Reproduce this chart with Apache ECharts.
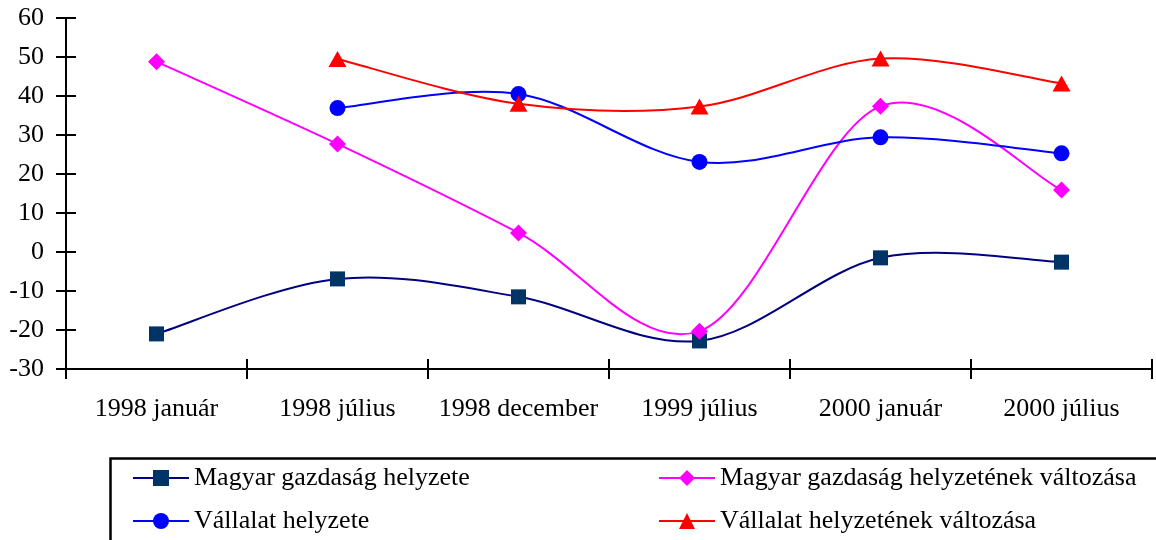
<!DOCTYPE html>
<html>
<head>
<meta charset="utf-8">
<script src="https://cdn.jsdelivr.net/npm/echarts@6/dist/echarts.min.js"></script>
<style>
html,body{margin:0;padding:0;background:#fff;}
#chart{width:1156px;height:540px;}
</style>
</head>
<body>
<div id="chart"></div>
<script>
var categories = ['1998 január', '1998 július', '1998 december', '1999 július', '2000 január', '2000 július'];
var seriesNames = ['Magyar gazdaság helyzete', 'Magyar gazdaság helyzetének változása', 'Vállalat helyzete', 'Vállalat helyzetének változása'];
var magyarHelyzet = [-21, -6.9, -11.5, -22.8, -1.5, -2.6];
var magyarValtozas = [48.8, 27.7, 4.9, -20.3, 37.4, 15.9];
var vallalatHelyzet = ['-', 36.9, 40.5, 23.1, 29.4, 25.3];
var vallalatValtozas = ['-', 49.5, 38, 37.3, 49.6, 43.2];
var yTicks = {min: -30, max: 60, interval: 10};

var FONT = '"Liberation Serif", "Times New Roman", serif';
var chart = echarts.init(document.getElementById('chart'), null, {renderer: 'canvas'});

function isValid(v) { return v !== '-' && v !== null && v !== undefined; }

function mkMarkers(name, data, lineColor, markColor, symbol, size) {
  return {
    name: name, type: 'line', data: data,
    symbol: symbol, symbolSize: size, showAllSymbol: true,
    lineStyle: {color: lineColor, width: 2, opacity: 0},
    itemStyle: {color: markColor, borderWidth: 0},
    emphasis: {disabled: true}, silent: true,
    animation: false, z: 4
  };
}

function mkCurve(data, color) {
  return {
    type: 'custom', silent: true, z: 3, animation: false,
    data: data.map(function (v, i) { return [i, isValid(v) ? v : 0]; }),
    renderItem: function (params, api) {
      var i = params.dataIndex, n = data.length;
      if (i >= n - 1 || !isValid(data[i]) || !isValid(data[i + 1])) return null;
      var p1 = api.coord([i, data[i]]);
      var p2 = api.coord([i + 1, data[i + 1]]);
      var p0 = (i - 1 >= 0 && isValid(data[i - 1])) ? api.coord([i - 1, data[i - 1]]) : p1;
      var p3 = (i + 2 < n && isValid(data[i + 2])) ? api.coord([i + 2, data[i + 2]]) : p2;
      return {
        type: 'bezierCurve',
        shape: {
          x1: p1[0], y1: p1[1], x2: p2[0], y2: p2[1],
          cpx1: p1[0] + (p2[0] - p0[0]) / 6, cpy1: p1[1] + (p2[1] - p0[1]) / 6,
          cpx2: p2[0] - (p3[0] - p1[0]) / 6, cpy2: p2[1] - (p3[1] - p1[1]) / 6
        },
        style: {stroke: color, lineWidth: 2, fill: null}
      };
    }
  };
}

var yTickValues = [];
for (var t = yTicks.min; t <= yTicks.max; t += yTicks.interval) yTickValues.push(t);

var yInnerTicks = {
  type: 'custom', z: 50, animation: false,
  data: yTickValues.map(function (v) { return [0, v]; }),
  renderItem: function (params, api) {
    var p = api.coord([0, api.value(1)]);
    var x0 = params.coordSys.x;
    return {type: 'line', shape: {x1: x0, y1: p[1], x2: x0 + 10, y2: p[1]},
            style: {stroke: '#000', lineWidth: 2}};
  }
};
var xInnerTicks = {
  type: 'custom', z: 50, animation: false,
  data: categories.map(function (c, i) { return [i, yTicks.min]; }).concat([[categories.length - 1, yTicks.min]]),
  renderItem: function (params, api) {
    var i = params.dataIndex;
    var last = i >= categories.length;
    var p = api.coord([api.value(0), yTicks.min]);
    var band = api.size([1, 0])[0];
    var x = last ? p[0] + band / 2 : p[0] - band / 2;
    var y0 = params.coordSys.y + params.coordSys.height;
    return {type: 'line', shape: {x1: x, y1: y0, x2: x, y2: y0 - 10},
            style: {stroke: '#000', lineWidth: 2}};
  }
};

var option = {
  animation: false,
  backgroundColor: '#fff',
  textStyle: {fontFamily: FONT},
  grid: {left: 66, right: 4, top: 18, bottom: 171, containLabel: false},
  xAxis: {
    type: 'category', data: categories, boundaryGap: true,
    axisLine: {onZero: false, lineStyle: {color: '#000', width: 2}},
    axisTick: {show: true, length: 10, lineStyle: {color: '#000', width: 2}},
    axisLabel: {color: '#000', fontSize: 26, fontFamily: FONT, margin: 27, interval: 0},
    splitLine: {show: false}
  },
  yAxis: {
    type: 'value', min: yTicks.min, max: yTicks.max, interval: yTicks.interval,
    axisLine: {show: true, onZero: false, lineStyle: {color: '#000', width: 2}},
    axisTick: {show: true, length: 10, lineStyle: {color: '#000', width: 2}},
    axisLabel: {color: '#000', fontSize: 26, fontFamily: FONT, margin: 22},
    splitLine: {show: false}
  },
  legend: [{
    data: [seriesNames[0], seriesNames[2]],
    orient: 'vertical', left: 132, top: 463, padding: 0,
    itemWidth: 56, itemHeight: 20, itemGap: 13,
    lineStyle: {width: 2, opacity: 1},
    textStyle: {color: '#000', fontSize: 26, fontFamily: FONT, lineHeight: 30},
    selectedMode: false
  }, {
    data: [seriesNames[1], seriesNames[3]],
    orient: 'vertical', left: 658, top: 463, padding: 0,
    itemWidth: 56, itemHeight: 20, itemGap: 13,
    lineStyle: {width: 2, opacity: 1},
    textStyle: {color: '#000', fontSize: 26, fontFamily: FONT, lineHeight: 30},
    selectedMode: false
  }],
  graphic: [{
    type: 'rect', left: 108, top: 456, silent: true,
    shape: {width: 1100, height: 120},
    style: {fill: 'none', stroke: '#000', lineWidth: 2.5}
  }],
  series: [
    mkMarkers(seriesNames[0], magyarHelyzet, '#000080', '#003366', 'rect', 15),
    mkMarkers(seriesNames[1], magyarValtozas, '#FF00FF', '#FF00FF', 'diamond', 17),
    mkMarkers(seriesNames[2], vallalatHelyzet, '#0000FF', '#0000FF', 'circle', 16),
    mkMarkers(seriesNames[3], vallalatValtozas, '#FF0000', '#FF0000', 'triangle', [18, 16]),
    mkCurve(magyarHelyzet, '#000080'),
    mkCurve(magyarValtozas, '#FF00FF'),
    mkCurve(vallalatHelyzet, '#0000FF'),
    mkCurve(vallalatValtozas, '#FF0000'),
    yInnerTicks,
    xInnerTicks
  ]
};
chart.setOption(option);
</script>
</body>
</html>
